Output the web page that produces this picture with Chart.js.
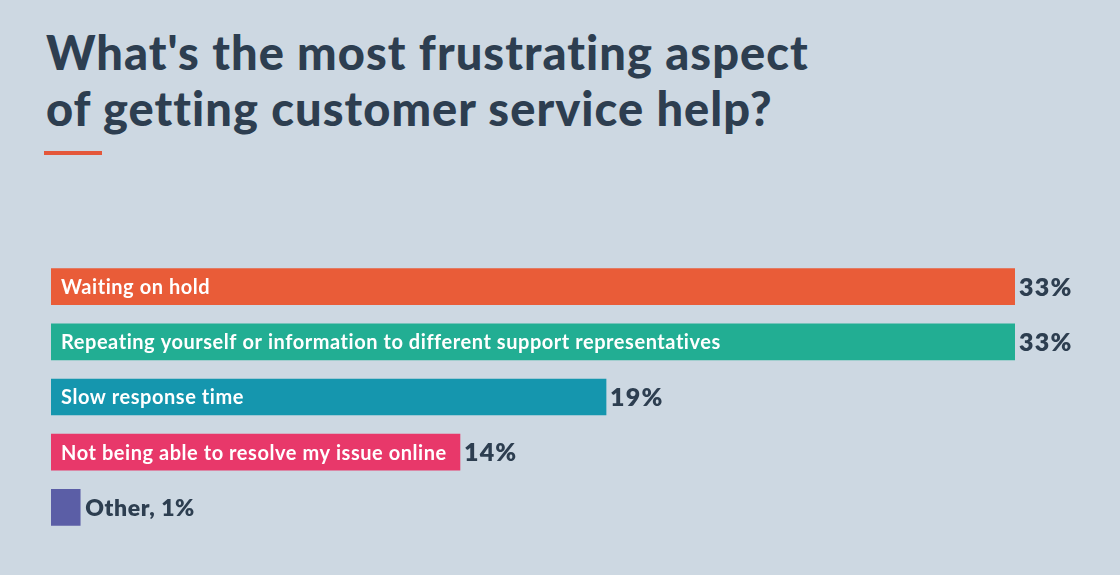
<!DOCTYPE html>
<html>
<head>
<meta charset="utf-8">
<script src="https://cdn.jsdelivr.net/npm/chart.js@4"></script>
<style>
  html, body { margin: 0; padding: 0; background: #cdd8e2; }
  #wrap { position: relative; width: 1120px; height: 575px; overflow: hidden; }
  h1 {
    position: absolute; left: 46px; top: 24px; margin: 0;
    font-family: Lato, "Noto Sans", sans-serif; font-weight: 900;
    font-size: 47px; line-height: 56px; color: #2d3e50; letter-spacing: 1.05px;
  }
  .rule { position: absolute; left: 44px; top: 151px; width: 58px; height: 4px; background: #e4573a; }
  #chart { position: absolute; left: 0; top: 0; }
</style>
</head>
<body>
<div id="wrap">
  <h1>What's the most frustrating aspect<br>of getting customer service help?</h1>
  <div class="rule"></div>
  <canvas id="chart" width="1120" height="575"></canvas>
</div>
<script>
// Survey answers, top to bottom
const categories = [
    'Waiting on hold',
    'Repeating yourself or information to different support representatives',
    'Slow response time',
    'Not being able to resolve my issue online',
    'Other'
];
const values = [33, 33, 19, 14, 1];
const colors = ['#e95c38', '#22ae93', '#1596ae', '#e8386a', '#5b5ea6'];

const ink = '#2d3e50';
const labelFont = '700 20px Lato, "Noto Sans", sans-serif';
const valueFont = '800 25px Lato, "Noto Sans", sans-serif';
const outsideFont = '800 23px Lato, "Noto Sans", sans-serif';

// Draws category names inside the bars and percentages after them
const barLabels = {
    id: 'barLabels',
    afterDatasetsDraw(chart) {
        const ctx = chart.ctx;
        const meta = chart.getDatasetMeta(0);
        ctx.save();
        ctx.textBaseline = 'middle';
        meta.data.forEach((bar, i) => {
            const left = bar.base;
            const right = bar.x;
            const y = bar.y + 1;
            const pct = values[i] + '%';
            ctx.font = labelFont;
            ctx.letterSpacing = '0.55px';
            const w = ctx.measureText(categories[i]).width;
            if (w + 20 < right - left) {
                ctx.fillStyle = '#ffffff';
                ctx.fillText(categories[i], left + 10, y);
                ctx.font = valueFont;
                ctx.letterSpacing = '1.2px';
                ctx.fillStyle = ink;
                ctx.fillText(pct, right + 4, y);
            } else {
                ctx.font = outsideFont;
                ctx.letterSpacing = '0.6px';
                ctx.fillStyle = ink;
                ctx.fillText(categories[i] + ', ' + pct, right + 5, y);
            }
        });
        ctx.restore();
    }
};

new Chart(document.getElementById('chart'), {
    type: 'bar',
    data: {
        labels: categories,
        datasets: [{
            data: values,
            backgroundColor: colors,
            borderWidth: 0,
            barThickness: 36
        }]
    },
    options: {
        indexAxis: 'y',
        responsive: false,
        animation: false,
        layout: {
            padding: { left: 51, right: 105, top: 259, bottom: 40 }
        },
        scales: {
            x: { display: false, min: 0, max: 33 },
            y: { display: false }
        },
        plugins: {
            legend: { display: false },
            tooltip: { enabled: false }
        }
    },
    plugins: [barLabels]
});
</script>
</body>
</html>
